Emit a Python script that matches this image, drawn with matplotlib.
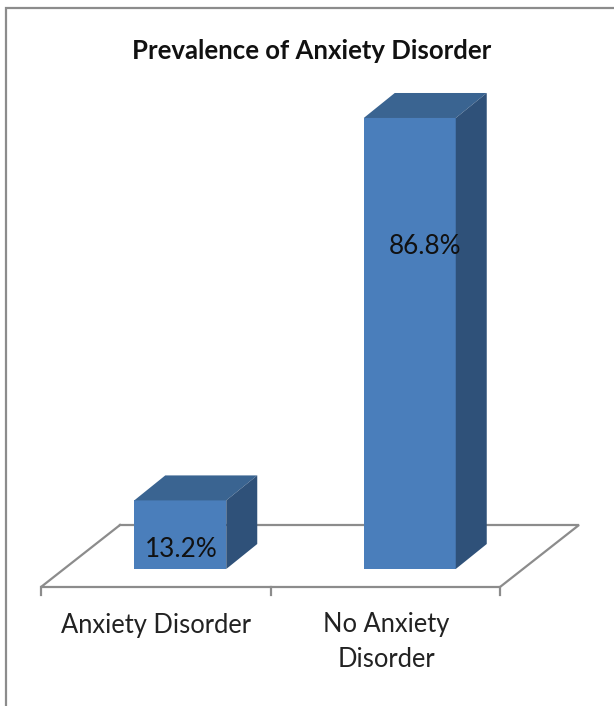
import numpy as np
import matplotlib
matplotlib.use("Agg")
import matplotlib.pyplot as plt
from matplotlib.patches import Polygon

plt.rcParams['font.family'] = ['Lato', 'DejaVu Sans']

categories = ['Anxiety Disorder', 'No Anxiety\nDisorder']
values = [13.2, 86.8]
value_labels = ['13.2%', '86.8%']

fig = plt.figure(figsize=(6.14, 7.06), dpi=100)
ax = fig.add_axes([0, 0, 1, 1])

# one category = 229.5 px, one percent = 5.196 px
ax.set_xlim(-41 / 229.5, (614 - 41) / 229.5)
ax.set_ylim(-137 / 5.196, 569 / 5.196)
ax.axis('off')

front_col = '#4A7EBB'
top_col = '#3A6491'
side_col = '#2F5179'
line_col = '#8C8C8C'

bar_w = 92 / 229.5
dx = 31 / 229.5
dy = 25 / 5.196
shift = 24.5 / 229.5
floor_front = -18 / 5.196
floor_back = 44 / 5.196
floor_dx = 79 / 229.5

# floor of the 3d plot
ax.plot([floor_dx, 2 + floor_dx, 2, 0, floor_dx],
        [floor_back, floor_back, floor_front, floor_front, floor_back],
        color=line_col, lw=1.6, solid_joinstyle='miter', zorder=1)
for i in range(3):
    ax.plot([i, i], [floor_front, floor_front - 8 / 5.196], color=line_col, lw=1.6, zorder=1)

# bars: front face, top face, side face
for i, v in enumerate(values):
    x0 = i + 0.5 + shift - bar_w / 2
    x1 = x0 + bar_w
    ax.bar(x0, v, width=bar_w, align='edge', color=front_col, zorder=2)
    ax.add_patch(Polygon([(x0, v), (x1, v), (x1 + dx, v + dy), (x0 + dx, v + dy)],
                         closed=True, facecolor=top_col, edgecolor='none', zorder=2))
    ax.add_patch(Polygon([(x1, 0), (x1 + dx, dy), (x1 + dx, v + dy), (x1, v)],
                         closed=True, facecolor=side_col, edgecolor='none', zorder=2))

# value labels sit at different heights inside the bars
label_y = [(569 - 549.5) / 5.196, (569 - 246.5) / 5.196]
label_x = [0.5 + shift + 1 / 229.5, 1.5 + shift + 15 / 229.5]
for x, y, s in zip(label_x, label_y, value_labels):
    ax.text(x, y, s, ha='center', va='center', fontsize=18.8, color='#111111', zorder=3)

ax.text(0.5, (569 - 626) / 5.196, categories[0], ha='center', va='center',
        fontsize=18.4, color='#222222')
ax.text(1.5 + 1 / 229.5, (569 - 642) / 5.196, categories[1], ha='center', va='center',
        fontsize=18.4, color='#222222', linespacing=1.5)

ax.text(312 / 614, 1 - 51 / 706, 'Prevalence of Anxiety Disorder', transform=ax.transAxes,
        ha='center', va='center', fontsize=18.5, fontweight='bold', color='#111111')

# chart frame, only left and top edges are in view
ax.plot([6 / 614, 6 / 614, 1], [0, 1 - 8 / 706, 1 - 8 / 706], transform=ax.transAxes,
        color=line_col, lw=1.6, solid_joinstyle='miter', clip_on=False)

fig.savefig('out.png', dpi=100, facecolor='white')
